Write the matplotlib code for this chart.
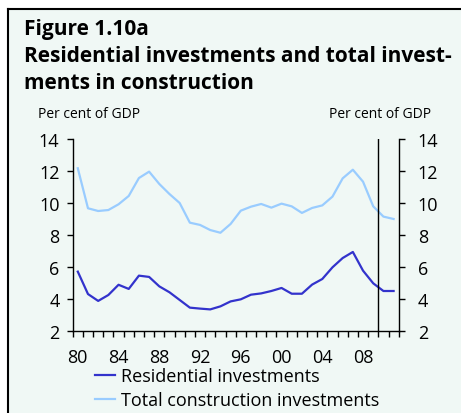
import matplotlib
matplotlib.use("Agg")
import matplotlib.pyplot as plt
import matplotlib.transforms as mtransforms
from matplotlib.lines import Line2D
from matplotlib.patches import Rectangle

plt.rcParams['font.family'] = ['Open Sans', 'DejaVu Sans']

years = list(range(1980, 2012))
residential = [5.71, 4.31, 3.88, 4.25, 4.89, 4.63, 5.46, 5.38, 4.79, 4.42,
               3.94, 3.46, 3.40, 3.35, 3.54, 3.85, 3.98, 4.27, 4.35, 4.50,
               4.69, 4.33, 4.33, 4.90, 5.25, 5.98, 6.56, 6.94, 5.77, 4.98,
               4.50, 4.50]
total = [12.17, 9.67, 9.50, 9.56, 9.92, 10.44, 11.56, 11.96, 11.19, 10.56,
         10.00, 8.77, 8.63, 8.31, 8.14, 8.69, 9.52, 9.77, 9.94, 9.71,
         9.96, 9.79, 9.38, 9.69, 9.85, 10.40, 11.54, 12.08, 11.33, 9.79,
         9.15, 9.00]
tick_labels = ['80', '84', '88', '92', '96', '00', '04', '08']
yticks = [2, 4, 6, 8, 10, 12, 14]
forecast_start = 2010

BG = '#f0f8f5'
C_RES = '#3333cc'
C_TOT = '#99ccff'

W, H = 461, 414
fig = plt.figure(figsize=(W / 100, H / 100), dpi=100, facecolor=BG)

# white margins and black frame lines (top & left)
fig.patches.append(Rectangle((0, 0), 7 / W, 1, transform=fig.transFigure,
                             facecolor='white', edgecolor='none', zorder=0))
fig.patches.append(Rectangle((0, 1 - 9 / H), 1, 9 / H, transform=fig.transFigure,
                             facecolor='white', edgecolor='none', zorder=0))
fig.lines.append(Line2D([7.5 / W, 7.5 / W], [0, 1 - 9.5 / H], transform=fig.transFigure,
                        color='black', lw=1.5))
fig.lines.append(Line2D([7.5 / W, 1], [1 - 9.5 / H, 1 - 9.5 / H], transform=fig.transFigure,
                        color='black', lw=1.5))

left, right, top, bottom = 72.7, 398.7, 140, 332
ax = fig.add_axes([left / W, 1 - bottom / H, (right - left) / W, (bottom - top) / H])
ax.set_facecolor('none')

xs = [y + 0.5 for y in years]
ax.plot(xs, total, color=C_TOT, lw=1.6, label='Total construction investments')
ax.plot(xs, residential, color=C_RES, lw=1.6, label='Residential investments')
ax.axvline(forecast_start, color='black', lw=1.0)

ax.set_xlim(1980, 2012)
ax.set_ylim(2, 14)
ax.spines['top'].set_visible(False)
for s in ['left', 'right', 'bottom']:
    ax.spines[s].set_linewidth(1.0)

ax.set_xticks(range(1980, 2013))
ax.set_xticklabels([])
ax.set_xticks([1980.5 + 4 * i for i in range(len(tick_labels))], minor=True)
ax.set_xticklabels(tick_labels, minor=True)
ax.tick_params(axis='x', which='major', direction='out', length=4.5, width=1.0)
ax.tick_params(axis='x', which='minor', length=0, labelsize=13, pad=12)

ax.set_yticks(yticks)
ax.set_yticklabels([str(v) for v in yticks])
ax.tick_params(axis='y', which='major', direction='out', length=4.5, width=1.0,
               labelsize=13, left=True, right=True, labelleft=True, labelright=True, pad=5)

# shift right-side labels slightly further out
offset = mtransforms.ScaledTranslation(6 / 100, 0, fig.dpi_scale_trans)
for t in ax.yaxis.get_major_ticks():
    t.label2.set_transform(t.label2.get_transform() + offset)

# titles
fig.text(24 / W, 1 - 35 / H, 'Figure 1.10a', fontsize=15, fontweight='bold', va='baseline')
fig.text(24 / W, 1 - 61.7 / H, 'Residential investments and total invest-', fontsize=15,
         fontweight='bold', va='baseline')
fig.text(24 / W, 1 - 89.3 / H, 'ments in construction', fontsize=15, fontweight='bold', va='baseline')
fig.text(38 / W, 1 - 117.7 / H, 'Per cent of GDP', fontsize=10, va='baseline')
fig.text(431 / W, 1 - 117.7 / H, 'Per cent of GDP', fontsize=10, va='baseline', ha='right')

handles = [Line2D([], [], color=C_RES, lw=1.6), Line2D([], [], color=C_TOT, lw=1.6)]
fig.legend(handles, ['Residential investments', 'Total construction investments'],
           loc='upper left', bbox_to_anchor=(95 / W, 1 - 368 / H), frameon=False,
           fontsize=13.0, handlelength=1.1, handletextpad=0.33, labelspacing=0.33,
           borderpad=0, borderaxespad=0)

fig.savefig('out.png', dpi=100, facecolor=BG)
